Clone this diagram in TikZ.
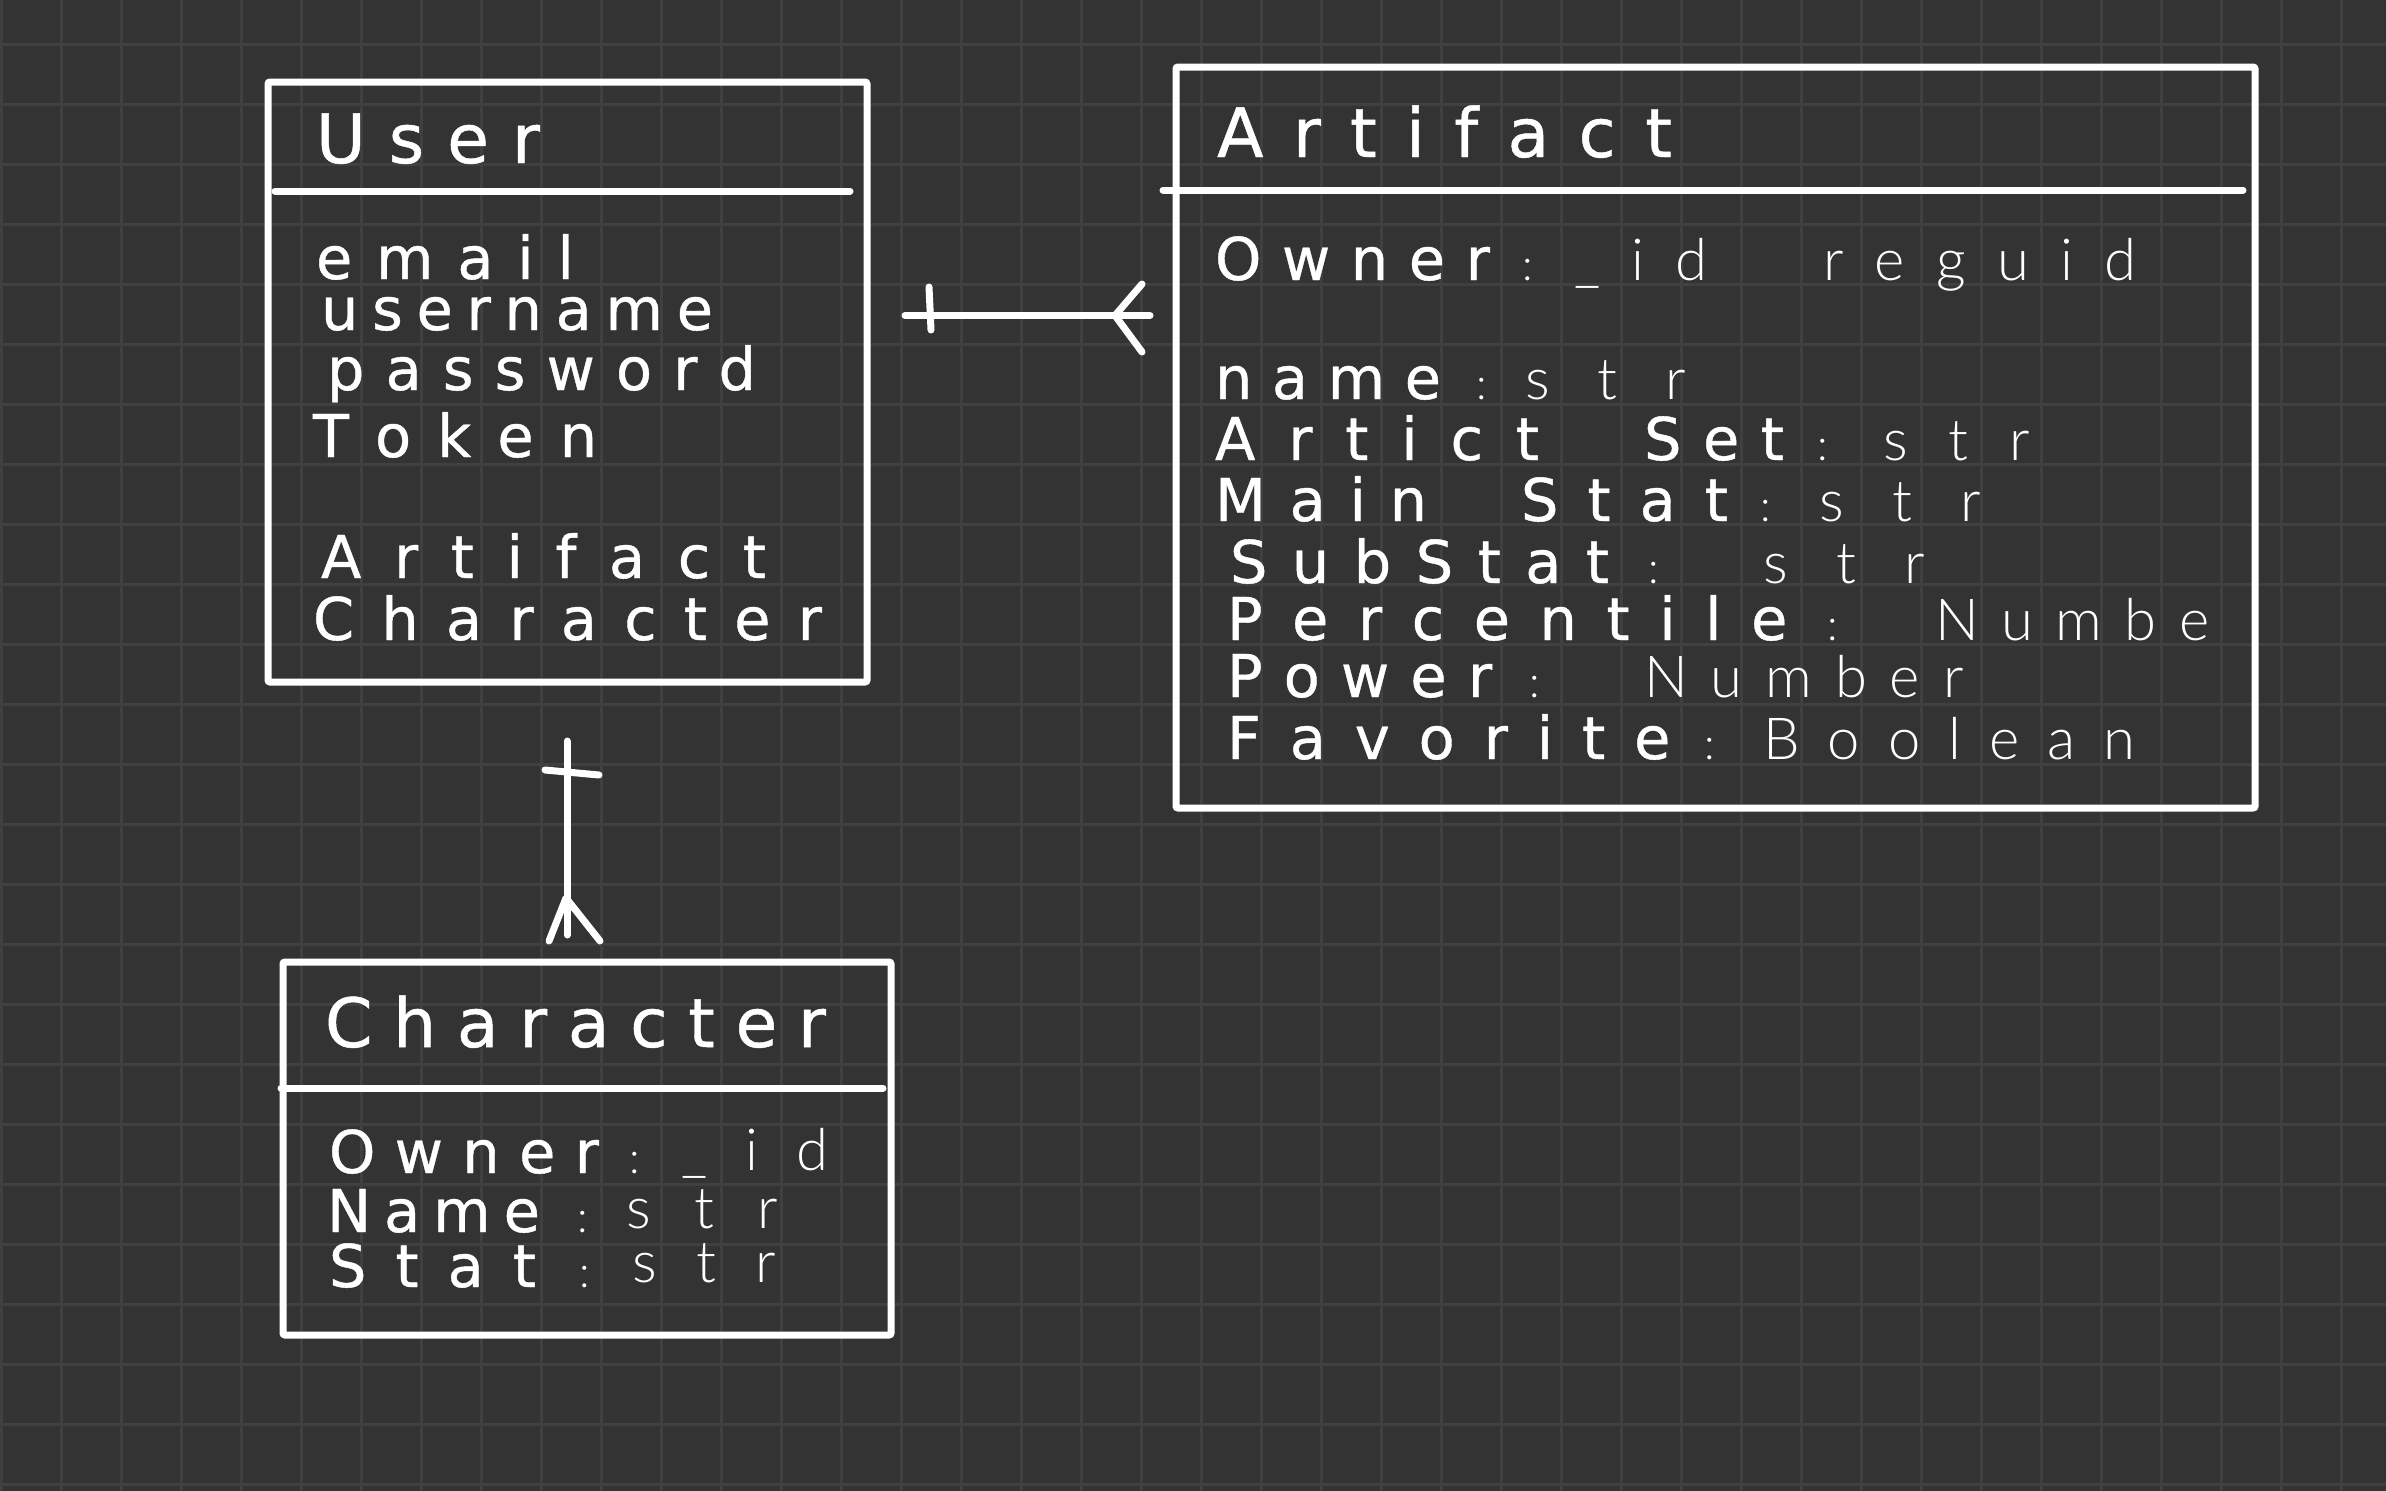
\documentclass[tikz,border=0pt]{standalone}
\usepackage{fontspec}
\newfontfamily\hwname{DejaVu Sans}[FakeBold=0.7]
\newfontfamily\hwtype{Lato}[UprightFont=* Light]
\definecolor{bgc}{HTML}{333333}
\definecolor{gridc}{HTML}{404040}
\makeatletter
\newcount\spr@n \newcount\spr@m \newdimen\spr@gap
\newcommand\spreadword[2]{%
  \setbox\z@\hbox{#2}%
  \spr@n\z@
  \@tfor\spr@c:=#2\do{\advance\spr@n\@ne}%
  \spr@m\spr@n \advance\spr@m\m@ne
  \ifnum\spr@m>\z@ \spr@gap=\dimexpr(#1-\wd\z@)/\spr@m\relax \else \spr@gap\z@ \fi
  \hbox{\@tfor\spr@c:=#2\do{\spr@c\kern\spr@gap}\kern-\spr@gap}%
}
\makeatother
\tikzset{
  gridline/.style={draw=gridc, line width=2.5pt},
  entbox/.style={draw=white, line width=7pt, rectangle, rounded corners=2pt, inner sep=0pt, outer sep=0pt},
  sepline/.style={draw=white, line width=7pt, line cap=round},
  conn/.style={draw=white, line width=7pt, line cap=round, line join=round},
  ttl/.style={anchor=base west, inner sep=0pt, outer sep=0pt, text=white, font=\hwname\fontsize{68}{68}\selectfont},
  nmt/.style={anchor=base west, inner sep=0pt, outer sep=0pt, text=white, font=\hwname\fontsize{59}{59}\selectfont},
  tyt/.style={anchor=base west, inner sep=0pt, outer sep=0pt, text=white, font=\hwtype\fontsize{58}{58}\selectfont},
  clt/.style={anchor=base west, inner sep=0pt, outer sep=0pt, text=white, font=\hwtype\fontsize{44}{44}\selectfont},
}
\newcommand\ttlw[5]{\node[ttl] (#1) at (#2,#3) {\spreadword{#4pt}{#5}};}
\newcommand\nmw[5]{\node[nmt] (#1) at (#2,#3) {\spreadword{#4pt}{#5}};}
\newcommand\tyw[5]{\node[tyt] (#1) at (#2,#3) {\spreadword{#4pt}{#5}};}
\newcommand\clw[3]{\node[clt] (#1) at (#2,#3) {:};}
\begin{document}
\begin{tikzpicture}[x=1pt,y=-1pt]
\useasboundingbox (0,0) rectangle (2386,1491);
\fill[bgc] (0,0) rectangle (2386,1491);
\foreach \i in {0,...,39} \draw[gridline] (1.7+60*\i,0) -- (1.7+60*\i,1491);
\foreach \j in {0,...,24} \draw[gridline] (0,44.3+60*\j) -- (2386,44.3+60*\j);

% ---------- boxes ----------
\node[entbox, minimum width=599pt, minimum height=600pt] (user) at (567.5,382) {};
\node[entbox, minimum width=1079pt, minimum height=741pt] (artifact) at (1715.5,437.5) {};
\node[entbox, minimum width=608pt, minimum height=373pt] (character) at (587,1148.5) {};

\draw[sepline] (275,191) -- (850,191);
\draw[sepline] (1163,190) -- (2243,190);
\draw[sepline] (281,1088) -- (883,1088);

% ---------- User ----------
\ttlw{u0}{316}{163}{224}{User}
\nmw{u1}{316}{279}{258}{email}
\nmw{u2}{321}{330}{391}{username}
\nmw{u3}{327}{390}{428}{password}
\nmw{u4}{313}{457}{272}{Token}
\nmw{u5}{321}{578}{445}{Artifact}
\nmw{u6}{313}{640}{509}{Character}

% ---------- Artifact ----------
\ttlw{a0}{1217}{157}{455}{Artifact}
\nmw{a1n}{1215}{280}{275}{Owner}\clw{a1c}{1522}{280}\tyw{a1t}{1574}{280}{133}{\_id}\tyw{a1u}{1823}{280}{312}{reguid}
\nmw{a2n}{1215}{399}{226}{name}\clw{a2c}{1476}{399}\tyw{a2t}{1525}{399}{161}{str}
\nmw{a3n}{1215}{460}{324}{Artict}\nmw{a3m}{1644}{460}{140}{Set}\clw{a3c}{1817}{460}\tyw{a3t}{1883}{460}{147}{str}
\nmw{a4n}{1215}{521}{212}{Main}\nmw{a4m}{1521}{521}{207}{Stat}\clw{a4c}{1760}{521}\tyw{a4t}{1819}{521}{162}{str}
\nmw{a5n}{1230}{583}{379}{SubStat}\clw{a5c}{1648}{583}\tyw{a5t}{1763}{583}{162}{str}
\nmw{a6n}{1227}{640}{557}{Percentile}\clw{a6c}{1827}{640}\tyw{a6t}{1935}{640}{274}{Numbe}
\nmw{a7n}{1227}{697}{263}{Power}\clw{a7c}{1529}{697}\tyw{a7t}{1644}{697}{319}{Number}
\nmw{a8n}{1227}{759}{438}{Favorite}\clw{a8c}{1704}{759}\tyw{a8t}{1763}{759}{372}{Boolean}

% ---------- Character ----------
\ttlw{c0}{325}{1047}{501}{Character}
\nmw{c1n}{329}{1173}{270}{Owner}\clw{c1c}{629}{1173}\tyw{c1t}{681}{1170}{147}{\_id}
\nmw{c2n}{327}{1232}{213}{Name}\clw{c2c}{577}{1232}\tyw{c2t}{626}{1228}{152}{str}
\nmw{c3n}{329}{1287}{207}{Stat}\clw{c3c}{579}{1287}\tyw{c3t}{632}{1282}{144}{str}

% ---------- connectors ----------
\coordinate (ua1) at (905,315.5);
\coordinate (ua2) at (1150,315.5);
\coordinate (uabar1) at (929,287);
\coordinate (uabar2) at (931,330);
\coordinate (uacf) at (1115,315.5);
\coordinate (uacf1) at (1142,284);
\coordinate (uacf2) at (1142,352);
\draw[conn] (ua1) -- (ua2);
\draw[conn] (uabar1) -- (uabar2);
\draw[conn] (uacf1) -- (uacf) -- (uacf2);

\coordinate (uc1) at (567,741);
\coordinate (uc2) at (567,935);
\coordinate (ucbar1) at (545,770);
\coordinate (ucbar2) at (599,775);
\coordinate (uccf) at (566,898);
\coordinate (uccf1) at (549,941);
\coordinate (uccf2) at (600,941);
\draw[conn] (uc1) -- (uc2);
\draw[conn] (ucbar1) -- (ucbar2);
\draw[conn] (uccf1) -- (uccf) -- (uccf2);
\end{tikzpicture}
\end{document}
